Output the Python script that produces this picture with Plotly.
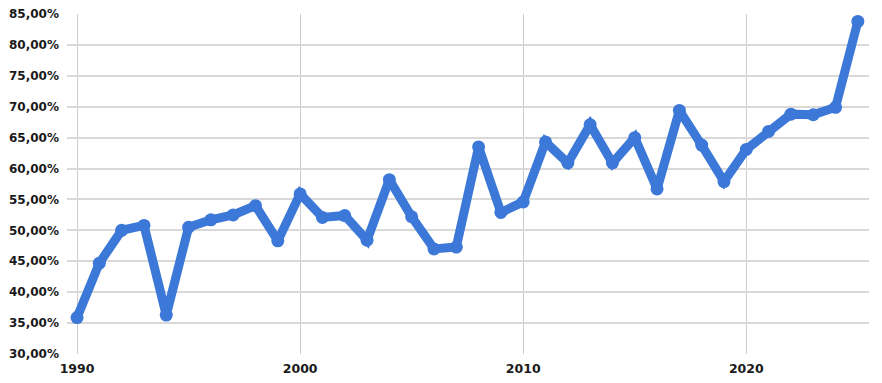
import plotly.graph_objects as go

years = list(range(1990, 2026))
values_pct = [35.9, 44.7, 50.0, 50.8, 36.3, 50.5, 51.7, 52.5, 54.0, 48.3,
              55.9, 52.1, 52.4, 48.4, 58.2, 52.2, 47.0, 47.3, 63.5, 52.9,
              54.6, 64.3, 60.9, 67.1, 60.9, 65.0, 56.7, 69.4, 63.8, 57.9,
              63.1, 66.0, 68.8, 68.7, 69.9, 83.8]
values = [v / 100 for v in values_pct]
x_ticks = [1990, 2000, 2010, 2020]

color = "#3c78d8"
fig = go.Figure(go.Scatter(
    x=years, y=values, mode="lines+markers",
    line=dict(color=color, width=9),
    marker=dict(color=color, size=13),
    hoverinfo="x+y",
))
fig.update_layout(
    width=882, height=383,
    margin=dict(l=67, r=13, t=14, b=29),
    paper_bgcolor="white", plot_bgcolor="white",
    separators=", ",
    showlegend=False,
    font=dict(family="DejaVu Sans", size=12, color="#1a1a1a"),
)
fig.update_xaxes(
    range=[1989.55, 2025.5], tickvals=x_ticks,
    showgrid=True, gridcolor="#cccccc", gridwidth=1,
    zeroline=False, showline=False, ticks="",
    automargin=False, ticklabelstandoff=5,
    tickfont=dict(family="DejaVu Sans", size=12.5, weight="bold"),
)
fig.update_yaxes(
    range=[0.30, 0.85], dtick=0.05, tickformat=".2%",
    showgrid=True, gridcolor="#d9d9d9", gridwidth=1.5,
    zeroline=False, showline=False, ticks="",
    automargin=False, ticklabelstandoff=7,
    tickfont=dict(family="DejaVu Sans", size=12, weight="bold"),
)
fig.write_html("out.html")
